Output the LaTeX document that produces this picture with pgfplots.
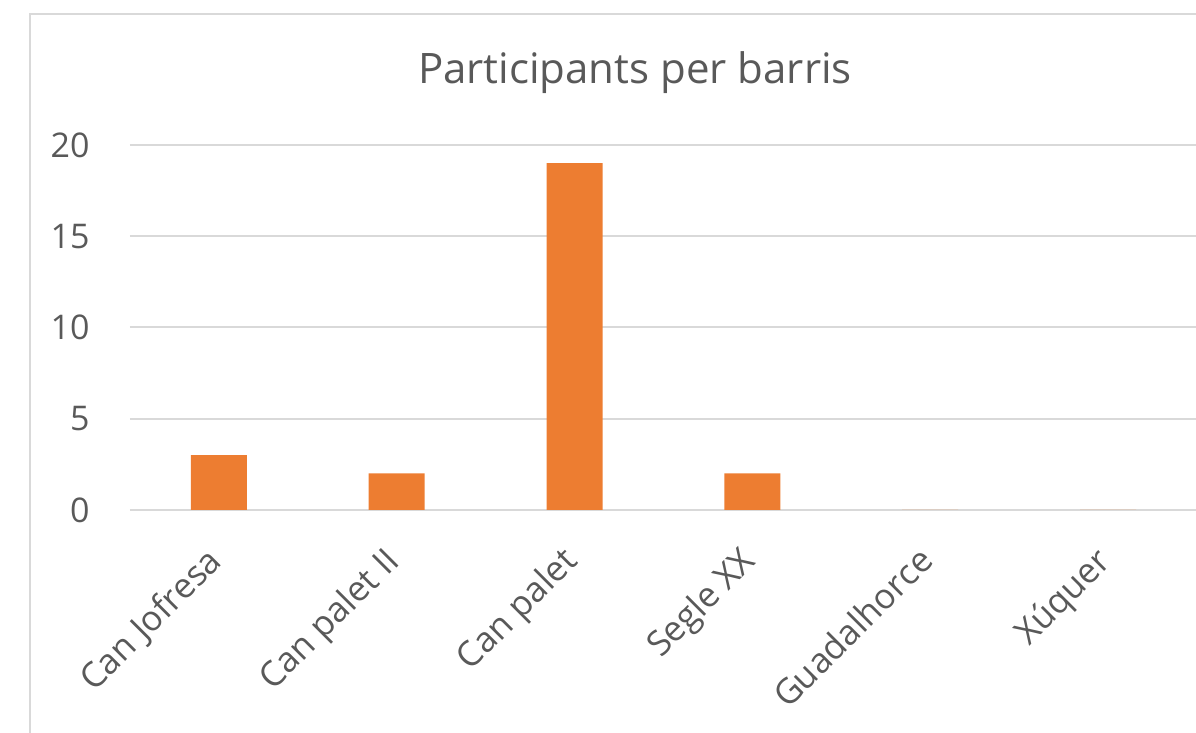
\documentclass[border=0pt]{standalone}
\usepackage{pgfplots}
\pgfplotsset{compat=1.18}
\usepackage{fontspec}
\setmainfont{Open Sans}
\definecolor{barc}{HTML}{ED7D31}
\definecolor{txt}{HTML}{595959}
\definecolor{grd}{HTML}{D9D9D9}
\begin{document}
\begin{tikzpicture}
\useasboundingbox (0,0) rectangle (598pt,366.5pt);
\draw[grd, line width=1.2pt] (15pt,-20pt) -- (15pt,359.5pt) -- (620pt,359.5pt);
\node[txt, font=\fontsize{21}{24}\selectfont] at (317.5pt,330pt) {Participants per barris};
\begin{axis}[
  at={(65pt,111.5pt)}, anchor=south west,
  scale only axis, width=533.5pt, height=182.5pt,
  ybar, bar width=28pt,
  xmin=-0.5, xmax=5.5, ymin=0, ymax=20,
  xtick=data,
  xticklabels={Can Jofresa, Can palet II, Can palet, Segle XX, Guadalhorce, Xúquer},
  ytick={0,5,10,15,20},
  ymajorgrids, grid style={grd, line width=1pt},
  axis line style={draw=none},
  major tick length=0pt,
  /pgf/number format/assume math mode=true,
  ticklabel style={txt, font=\fontsize{17}{20}\selectfont},
  yticklabel style={anchor=east, inner sep=0pt, xshift=-20pt},
  xticklabel style={rotate=45, anchor=north east, inner sep=0pt, xshift=-17pt, yshift=-7pt, font=\fontsize{17.4}{21}\selectfont},
]
\addplot[fill=barc, draw=none] coordinates {(0,3) (1,2) (2,19) (3,2) (4,0) (5,0)};
\end{axis}
\end{tikzpicture}
\end{document}
